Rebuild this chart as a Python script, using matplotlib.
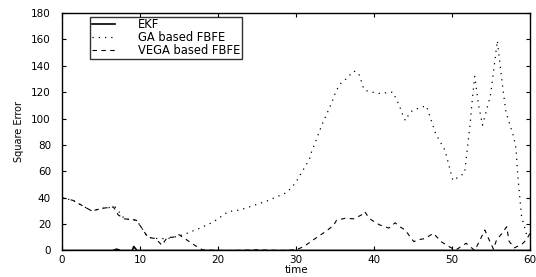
"""Square error of EKF, GA based FBFE and VEGA based FBFE over time."""

import matplotlib
matplotlib.use("Agg")
import matplotlib.pyplot as plt

# values
ekf_time = [0, 6.5, 7, 7.5, 9, 9.2, 9.6, 18, 30, 44, 60]
ekf_err = [0, 0, 1, 0, 0, 3, 0, 0, 0, 0, 0]

ga_time = [0, 1.4, 3.8, 5.2, 6.8, 8, 9.5, 10, 11, 12.3, 13.5, 15, 16, 17.7,
           19.4, 21.3, 22.8, 24.5, 26.4, 27.1, 28.8, 29.3, 29.9, 30.4, 30.8,
           31.7, 32, 32.4, 33.3, 34.2, 34.7, 35.1, 35.7, 36.4, 37.4, 38, 38.3,
           38.7, 39.1, 40.5, 42.4, 43.2, 43.6, 44, 44.6, 45.1, 46.7, 47.9,
           49.1, 50.1, 51.6, 52.3, 52.6, 52.9, 53.4, 53.9, 54.9, 55.1, 55.8,
           56.4, 56.7, 56.9, 57.9, 58.2, 58.4, 58.9, 59.5, 60]
ga_err = [40, 38, 30, 32, 33, 24, 23, 19, 10, 9, 9, 11, 13, 17,
          21.6, 29.5, 30.7, 34, 37.8, 39.6, 43.9, 47, 51, 56, 60,
          69, 75, 81, 95, 107, 114, 120.6, 126.5, 130, 136, 134.5, 129.5,
          122, 121, 119, 120, 110.5, 104, 98.5, 104.6, 106.7, 109.7, 88.5,
          75.8, 53, 58.6, 95, 115, 132, 110, 95, 117, 125.6, 159,
          128, 114, 105, 86, 77, 58, 26, 13, 10]

vega_time = [0, 1.4, 3.8, 5.2, 6.6, 7.2, 8, 9.5, 10, 11, 12, 12.8, 13.5, 14.2,
             15, 16, 17, 18, 20, 22, 25, 28, 30, 31, 32.2, 32.8, 33.7, 34.8,
             35.2, 36.3, 37.4, 38.4, 38.8, 39.3, 39.7, 40.7, 41.9, 42.7, 43.3,
             44, 44.6, 45.1, 45.5, 46.5, 47.6, 48, 48.6, 49.3, 49.9, 50.5,
             51.8, 52.9, 53.5, 54.2, 54.6, 55.3, 55.7, 56.4, 57, 57.3, 58, 59,
             59.5, 60]
vega_err = [40, 38, 30, 32, 33, 27, 24, 23, 19, 10, 9, 4, 10, 10,
            12, 8, 4, 0.5, 0, 0, 0.5, 0, 0.5, 3, 8, 10.5, 14, 19,
            23, 24.4, 24, 27, 29.5, 25, 23, 19.4, 17, 21, 18,
            15.5, 10.5, 6.7, 8, 9, 13, 10.5, 6.7, 4, 2, 0.5,
            5.5, 0, 7, 15.5, 10, 1, 8, 13, 18, 7, 2, 5,
            8, 13]

labels = ["EKF", "GA based FBFE", "VEGA based FBFE"]

fig = plt.figure(figsize=(5.36, 2.77), dpi=100)
ax = fig.add_axes([0.1157, 0.0957, 0.8733, 0.8573])

ax.plot(ekf_time, ekf_err, color="black", lw=1.2, ls="-", label=labels[0])
ax.plot(ga_time, ga_err, color="black", lw=0.9, ls=(0, (1, 4)), label=labels[1])
ax.plot(vega_time, vega_err, color="black", lw=0.8, ls=(0, (4, 4)), label=labels[2])

ax.set_xlim(0, 60)
ax.set_ylim(0, 180)
ax.set_xticks(range(0, 61, 10))
ax.set_yticks(range(0, 181, 20))
ax.tick_params(axis="both", direction="in", top=True, right=True, length=3,
               width=0.8, labelsize=7.5)
ax.tick_params(axis="y", pad=8)
ax.tick_params(axis="x", pad=3)
for s in ax.spines.values():
    s.set_linewidth(1.0)
ax.set_xlabel("time", fontsize=7.5, labelpad=0)
ax.set_ylabel("Square Error", fontsize=7, labelpad=5)

leg = ax.legend(loc="upper left", bbox_to_anchor=(0.06, 0.985), fontsize=8.3,
                frameon=True, fancybox=False, edgecolor="black",
                handlelength=2.0, handletextpad=2.0, borderpad=0.15,
                labelspacing=0.0, borderaxespad=0)
leg.get_frame().set_linewidth(1.0)

fig.savefig("out.png", dpi=100)
